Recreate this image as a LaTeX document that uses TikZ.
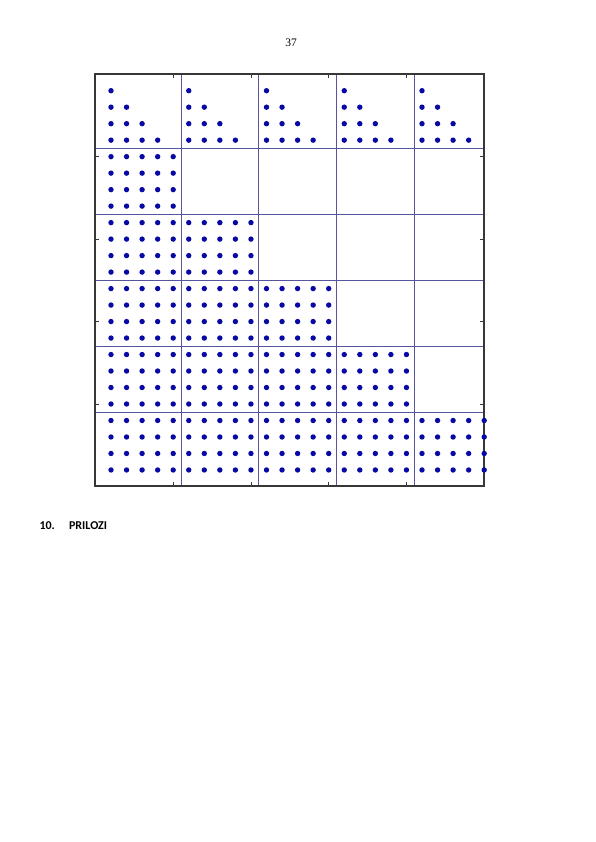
\documentclass[tikz,border=0pt]{standalone}
\usepackage{fontspec}
\setmainfont{Liberation Serif}
\newfontfamily\carlito{Carlito}
\begin{document}
\begin{tikzpicture}[x=1pt,y=-1pt]
\definecolor{dotc}{RGB}{8,8,165}
\definecolor{gridc}{RGB}{85,85,155}
\definecolor{axc}{RGB}{55,55,55}
\tikzset{
  dotmark/.style={fill=dotc},
  gridline/.style={draw=gridc,line width=0.8pt},
  axisbox/.style={draw=axc,line width=1.3pt},
  tickmark/.style={draw=axc,line width=0.7pt},
}
\useasboundingbox[fill=white] (0,0) rectangle (596,842);
% page number and heading
\node[font=\fontsize{11.5}{13}\selectfont,anchor=base] (pnum) at (291,47) {37};
\node[font=\carlito\bfseries\fontsize{12}{14}\selectfont,anchor=base west] (hnum) at (36,529) {10.};
\node[font=\carlito\bfseries\fontsize{12}{14}\selectfont,anchor=base west] (htitle) at (65.5,529) {PRILOZI};
% helper values
\def\xo{111}\def\dx{15.55}
\def\yo{90.7}\def\dy{16.49}
% grid lines
\foreach \c in {4.5,9.5,14.5,19.5}
  \draw[gridline] ({\xo+\dx*\c},74) -- ({\xo+\dx*\c},486);
\foreach \r in {3.5,7.5,11.5,15.5,19.5}
  \draw[gridline] (95,{\yo+\dy*\r}) -- (484,{\yo+\dy*\r});
% ticks
\foreach \c in {4,9,14,19} {
  \draw[tickmark] ({\xo+\dx*\c},74) -- ++(0,4);
  \draw[tickmark] ({\xo+\dx*\c},486) -- ++(0,-4);
}
\foreach \r in {4,9,14,19} {
  \draw[tickmark] (95,{\yo+\dy*\r}) -- ++(4,0);
  \draw[tickmark] (484,{\yo+\dy*\r}) -- ++(-4,0);
}
% axis box
\draw[axisbox] (95,74) rectangle (484,486);
% triangles in the top block row
\foreach \b in {0,...,4}
  \foreach \i in {0,...,3}
    \foreach \j in {0,...,\i}
      \fill[dotmark] ({\xo+\dx*(5*\b+\j)},{\yo+\dy*\i}) circle (2.7);
% full blocks
\foreach \R in {1,...,5} {
  \pgfmathtruncatemacro{\Bmax}{\R-1}
  \foreach \b in {0,...,\Bmax}
    \foreach \i in {0,...,3}
      \foreach \j in {0,...,4}
        \fill[dotmark] ({\xo+\dx*(5*\b+\j)},{\yo+\dy*(4*\R+\i)}) circle (2.7);
}
\end{tikzpicture}
\end{document}
